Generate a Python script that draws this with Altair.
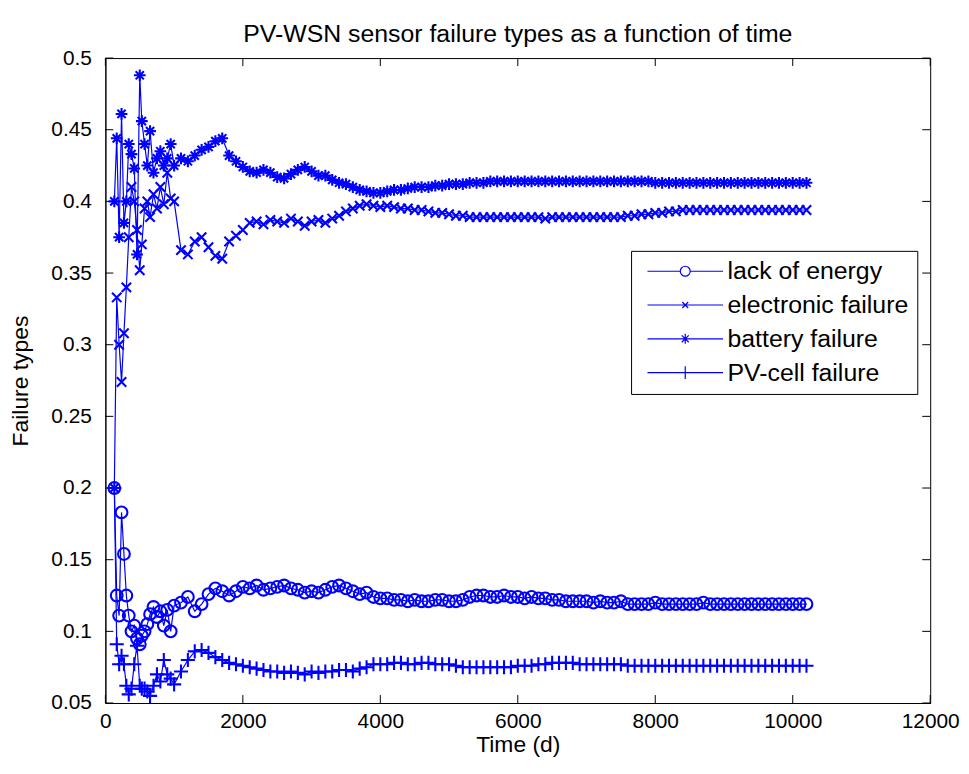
import altair as alt
import pandas as pd

series_names = ["lack of energy", "electronic failure", "battery failure", "PV-cell failure"]

time_d = [130, 165, 200, 235, 270, 305, 340, 380, 420, 460, 500, 530, 570, 610, 650, 700, 750, 800, 850, 900, 950, 1000,
          1100, 1200, 1300, 1400, 1500, 1600, 1700, 1800, 1900, 2000,
          2100, 2200, 2300, 2400, 2500, 2600, 2700, 2800, 2900, 3000,
          3100, 3200, 3300, 3400, 3500, 3600, 3700, 3800, 3900, 4000,
          4100, 4200, 4300, 4400, 4500, 4600, 4700, 4800, 4900, 5000,
          5100, 5200, 5300, 5400, 5500, 5600, 5700, 5800, 5900, 6000,
          6100, 6200, 6300, 6400, 6500, 6600, 6700, 6800, 6900, 7000,
          7100, 7200, 7300, 7400, 7500, 7600, 7700, 7800, 7900, 8000,
          8100, 8200, 8300, 8400, 8500, 8600, 8700, 8800, 8900, 9000,
          9100, 9200, 9300, 9400, 9500, 9600, 9700, 9800, 9900, 10000,
          10100, 10200]

lack_of_energy = [0.200, 0.125, 0.111, 0.183, 0.154, 0.125, 0.111, 0.100, 0.104, 0.095, 0.091, 0.097, 0.100, 0.105, 0.112, 0.117, 0.110, 0.114, 0.104, 0.115, 0.100, 0.118,
                  0.120, 0.124, 0.114, 0.119, 0.126, 0.130, 0.128, 0.125, 0.128, 0.131,
                  0.130, 0.132, 0.129, 0.130, 0.131, 0.132, 0.130, 0.129, 0.127, 0.128,
                  0.127, 0.129, 0.131, 0.132, 0.130, 0.128, 0.126, 0.127, 0.124, 0.123,
                  0.123, 0.122, 0.122, 0.121, 0.122, 0.121, 0.121, 0.122, 0.122, 0.121,
                  0.121, 0.122, 0.124, 0.125, 0.125, 0.124, 0.124, 0.125, 0.124, 0.124,
                  0.123, 0.124, 0.123, 0.123, 0.122, 0.122, 0.121, 0.121, 0.121, 0.121,
                  0.120, 0.121, 0.120, 0.120, 0.121, 0.119, 0.119, 0.119, 0.119, 0.120,
                  0.119, 0.119, 0.119, 0.119, 0.119, 0.119, 0.120, 0.119, 0.119, 0.119,
                  0.119, 0.119, 0.119, 0.119, 0.119, 0.119, 0.119, 0.119, 0.119, 0.119,
                  0.119, 0.119]

electronic_failure = [0.200, 0.333, 0.300, 0.274, 0.308, 0.340, 0.375, 0.410, 0.400, 0.380, 0.352, 0.370, 0.395, 0.400, 0.389, 0.405, 0.395, 0.410, 0.398, 0.420, 0.402, 0.400,
                      0.366, 0.363, 0.372, 0.375, 0.368, 0.362, 0.360, 0.372, 0.376, 0.380,
                      0.385, 0.386, 0.384, 0.387, 0.386, 0.385, 0.388, 0.386, 0.383, 0.386,
                      0.387, 0.385, 0.388, 0.390, 0.393, 0.395, 0.397, 0.398, 0.397, 0.396,
                      0.397, 0.396, 0.395, 0.395, 0.394, 0.394, 0.393, 0.392, 0.392, 0.391,
                      0.390, 0.390, 0.389, 0.389, 0.389, 0.389, 0.389, 0.389, 0.389, 0.389,
                      0.389, 0.389, 0.389, 0.388, 0.389, 0.389, 0.389, 0.389, 0.389, 0.389,
                      0.389, 0.389, 0.389, 0.389, 0.389, 0.390, 0.390, 0.391, 0.391, 0.392,
                      0.392, 0.393, 0.393, 0.394, 0.394, 0.394, 0.394, 0.394, 0.394, 0.394,
                      0.394, 0.394, 0.394, 0.394, 0.394, 0.394, 0.394, 0.394, 0.394, 0.394,
                      0.394, 0.394]

battery_failure = [0.400, 0.444, 0.375, 0.461, 0.385, 0.400, 0.440, 0.433, 0.423, 0.363, 0.488, 0.456, 0.440, 0.425, 0.449, 0.420, 0.430, 0.435, 0.425, 0.430, 0.440, 0.425,
                   0.430, 0.428, 0.432, 0.436, 0.438, 0.442, 0.444, 0.432, 0.428, 0.424,
                   0.421, 0.420, 0.422, 0.420, 0.417, 0.416, 0.419, 0.422, 0.424, 0.421,
                   0.418, 0.418, 0.415, 0.413, 0.412, 0.410, 0.408, 0.407, 0.406, 0.406,
                   0.407, 0.408, 0.408, 0.409, 0.410, 0.410, 0.410, 0.411, 0.411, 0.412,
                   0.412, 0.412, 0.413, 0.413, 0.413, 0.414, 0.414, 0.414, 0.414, 0.414,
                   0.414, 0.414, 0.414, 0.414, 0.414, 0.414, 0.414, 0.414, 0.414, 0.414,
                   0.414, 0.414, 0.414, 0.414, 0.414, 0.414, 0.414, 0.414, 0.414, 0.413,
                   0.413, 0.413, 0.413, 0.413, 0.413, 0.413, 0.413, 0.413, 0.413, 0.413,
                   0.413, 0.413, 0.413, 0.413, 0.413, 0.413, 0.413, 0.413, 0.413, 0.413,
                   0.413, 0.413]

pv_cell_failure = [0.200, 0.091, 0.077, 0.083, 0.077, 0.062, 0.056, 0.060, 0.077, 0.090, 0.062, 0.060, 0.060, 0.058, 0.055, 0.062, 0.070, 0.065, 0.080, 0.070, 0.067, 0.063,
                   0.072, 0.080, 0.086, 0.087, 0.085, 0.082, 0.080, 0.078, 0.077, 0.076,
                   0.075, 0.074, 0.073, 0.072, 0.072, 0.071, 0.072, 0.071, 0.070, 0.072,
                   0.071, 0.072, 0.072, 0.073, 0.073, 0.072, 0.074, 0.075, 0.077, 0.077,
                   0.077, 0.078, 0.078, 0.077, 0.077, 0.078, 0.078, 0.077, 0.077, 0.077,
                   0.076, 0.075, 0.075, 0.075, 0.075, 0.075, 0.075, 0.075, 0.075, 0.076,
                   0.076, 0.076, 0.077, 0.077, 0.078, 0.078, 0.078, 0.078, 0.077, 0.077,
                   0.077, 0.077, 0.077, 0.077, 0.077, 0.076, 0.076, 0.076, 0.076, 0.076,
                   0.076, 0.076, 0.076, 0.076, 0.076, 0.076, 0.076, 0.076, 0.076, 0.076,
                   0.076, 0.076, 0.076, 0.076, 0.076, 0.076, 0.076, 0.076, 0.076, 0.076,
                   0.076, 0.076]

x_ticks = [0, 2000, 4000, 6000, 8000, 10000, 12000]
y_ticks = [0.05, 0.1, 0.15, 0.2, 0.25, 0.3, 0.35, 0.4, 0.45, 0.5]

rows = []
for name, vals in zip(series_names, [lack_of_energy, electronic_failure, battery_failure, pv_cell_failure]):
    for t, v in zip(time_d, vals):
        rows.append({"t": t, "v": v, "s": name})
df = pd.DataFrame(rows)

W, H = 830, 649
BLUE = "#0000ff"
FONT = "Liberation Sans"

marker_paths = [
    "circle",
    "M-0.8,-0.8L0.8,0.8M-0.8,0.8L0.8,-0.8",
    "M-1,0L1,0M0,-1L0,1M-0.7,-0.7L0.7,0.7M-0.7,0.7L0.7,-0.7",
    "M-1.2,0L1.2,0M0,-1.2L0,1.2",
]
legend_paths = [
    "M-7.6,0L-1,0M1,0L7.6,0M-1,0A1,1 0 1,0 1,0A1,1 0 1,0 -1,0",
    "M-7.6,0L7.6,0M-0.6,-0.6L0.6,0.6M-0.6,0.6L0.6,-0.6",
    "M-7.6,0L7.6,0M0,-1L0,1M-0.7,-0.7L0.7,0.7M-0.7,0.7L0.7,-0.7",
    "M-7.6,0L7.6,0M0,-1.3L0,1.3",
]

xscale = alt.Scale(domain=[0, 12000], nice=False, zero=False)
yscale = alt.Scale(domain=[0.05, 0.5], nice=False, zero=False)

xenc = alt.X("t:Q", scale=xscale, axis=alt.Axis(
    values=x_ticks, format="d", title="Time (d)", ticks=False, tickSize=0, grid=False,
    labelFont=FONT, labelFontSize=21, labelColor="black", labelPadding=8,
    titleFont=FONT, titleFontSize=23, titleFontWeight="normal", titleColor="black", titlePadding=2,
    domainColor="black", labelFlush=False))
yenc = alt.Y("v:Q", scale=yscale, axis=alt.Axis(
    values=y_ticks, format=".2~f", title="Failure types", ticks=False, tickSize=0, grid=False,
    labelFont=FONT, labelFontSize=21, labelColor="black", labelPadding=14,
    titleFont=FONT, titleFontSize=23, titleFontWeight="normal", titleColor="black", titlePadding=19,
    domainColor="black", labelFlush=False))

base = alt.Chart(df)

lines = base.mark_line(color=BLUE, strokeWidth=1.2, clip=True).encode(
    x=xenc, y=yenc, detail="s:N", order="t:Q")

points = base.mark_point(filled=False, strokeWidth=2.1, clip=True, color=BLUE, opacity=1).encode(
    x=alt.X("t:Q", scale=xscale),
    y=alt.Y("v:Q", scale=yscale),
    shape=alt.Shape("s:N", scale=alt.Scale(domain=series_names, range=marker_paths), legend=None),
    size=alt.value(140),
)

legend_df = pd.DataFrame({"s": series_names})
legend_layer = alt.Chart(legend_df).mark_point(filled=False, color=BLUE, strokeWidth=1).encode(
    x=alt.value(0), y=alt.value(0),
    opacity=alt.value(0),
    shape=alt.Shape("s:N", scale=alt.Scale(domain=series_names, range=legend_paths),
                    legend=alt.Legend(
                        title=None, orient="none", legendX=529, legendY=194, direction="vertical",
                        fillColor="white", strokeColor="black", padding=8,
                        symbolSize=100, symbolOffset=34, labelOffset=30,
                        labelFont=FONT, labelFontSize=25, labelColor="black", labelLimit=400,
                        rowPadding=8, symbolStrokeWidth=1.2, symbolStrokeColor=BLUE,
                        symbolFillColor="transparent", symbolOpacity=1)),
)

xt = pd.DataFrame({"t": x_ticks})
yt = pd.DataFrame({"v": y_ticks})
TL = 8
xt_bottom = alt.Chart(xt).mark_rule(color="black", strokeWidth=1).encode(
    x=alt.X("t:Q", scale=xscale), y=alt.value(H), y2=alt.value(H - TL))
xt_top = alt.Chart(xt).mark_rule(color="black", strokeWidth=1).encode(
    x=alt.X("t:Q", scale=xscale), y=alt.value(0), y2=alt.value(TL))
yt_left = alt.Chart(yt).mark_rule(color="black", strokeWidth=1).encode(
    y=alt.Y("v:Q", scale=yscale), x=alt.value(0), x2=alt.value(TL))
yt_right = alt.Chart(yt).mark_rule(color="black", strokeWidth=1).encode(
    y=alt.Y("v:Q", scale=yscale), x=alt.value(W), x2=alt.value(W - TL))

chart = alt.layer(
    xt_bottom, xt_top, yt_left, yt_right, lines, points, legend_layer
).resolve_scale(shape="independent").properties(
    width=W, height=H,
    title=alt.Title("PV-WSN sensor failure types as a function of time", font=FONT, fontSize=25,
                    fontWeight="normal", color="black", anchor="middle", offset=0),
    autosize=alt.AutoSizeParams(type="none"),
    padding={"left": 98, "top": 48, "right": 31, "bottom": 61},
    background="white",
).configure_view(stroke="black", strokeWidth=1)

chart.save("out.html", embed_options={"renderer": "svg", "actions": False})
